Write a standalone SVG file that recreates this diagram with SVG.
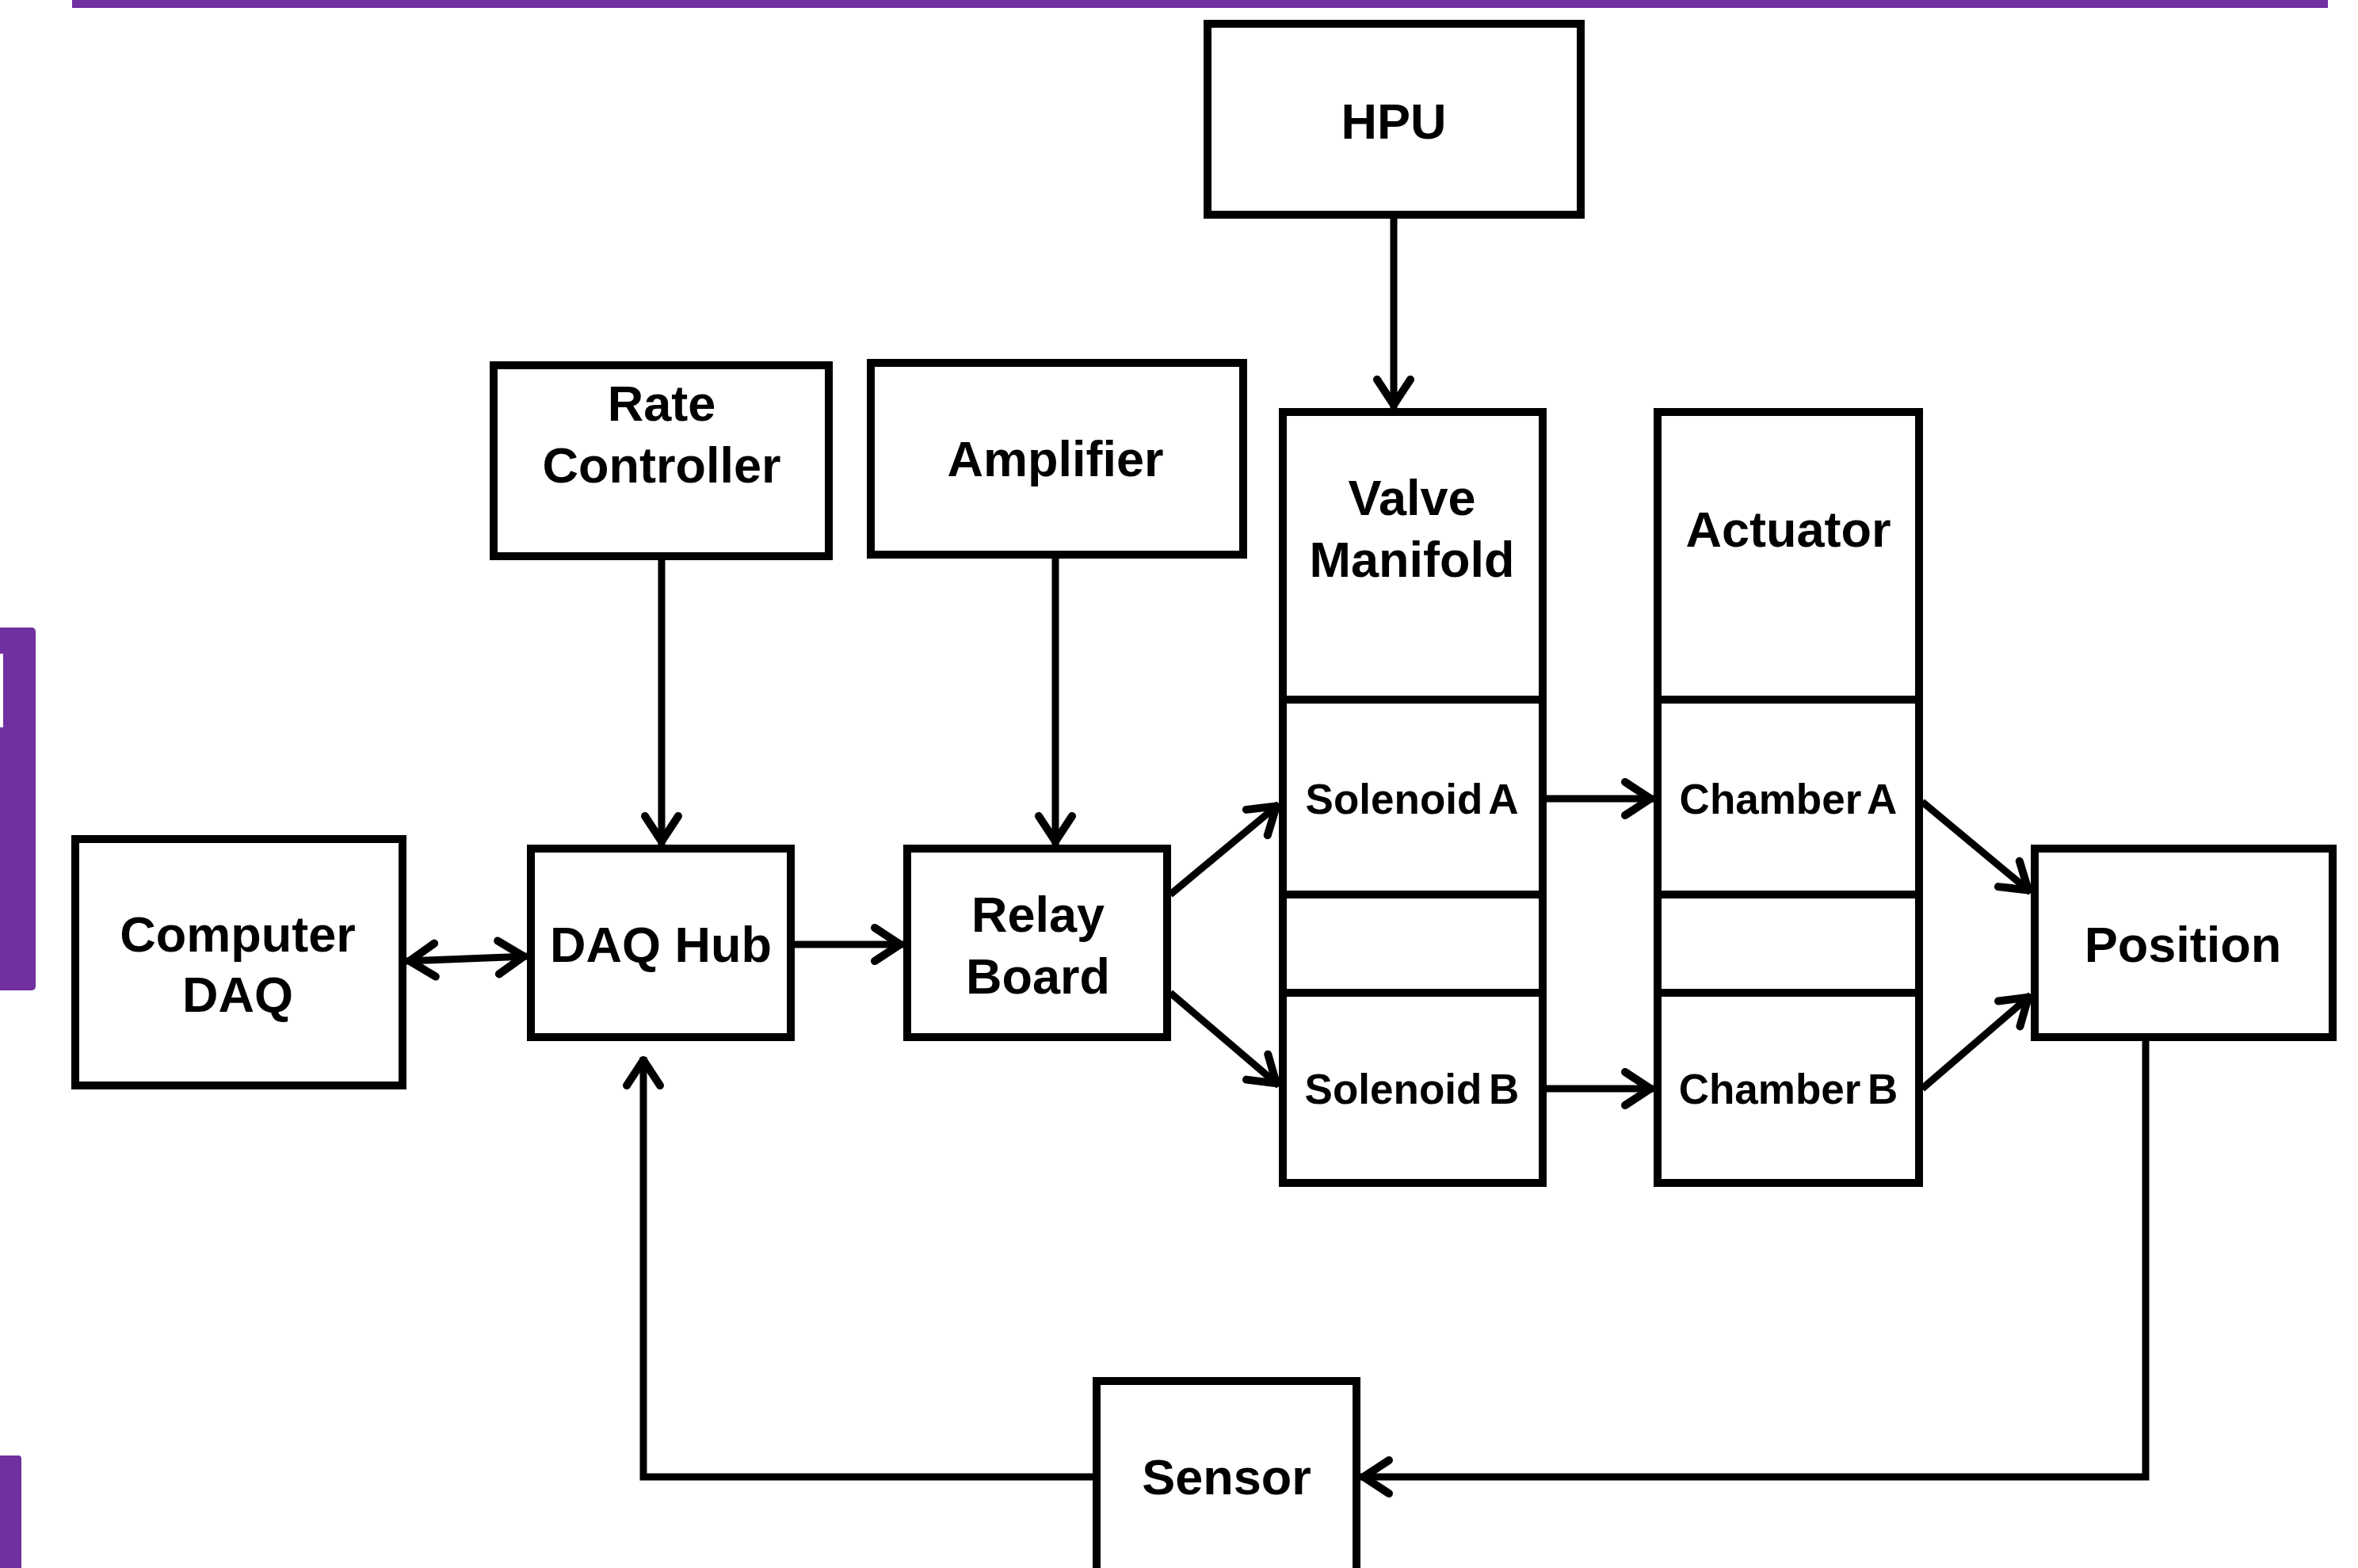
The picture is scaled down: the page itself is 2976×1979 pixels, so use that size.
<svg xmlns="http://www.w3.org/2000/svg" width="2976" height="1979" viewBox="0 0 2976 1979">
<style>
.box{fill:#fff;stroke:#000;stroke-width:10}
.t{font-family:"Liberation Sans",Arial,sans-serif;font-weight:bold;font-size:63px;fill:#000;text-anchor:middle}
.s{font-size:53px;word-spacing:-6px}
.c{fill:none;stroke:#000;stroke-width:9}
.bar{fill:#7030a0}
</style>
<defs>
<marker id="ah" markerUnits="userSpaceOnUse" markerWidth="60" markerHeight="60" refX="0" refY="0" orient="auto-start-reverse" overflow="visible" viewBox="-50 -30 60 60">
<path d="M -36 -21 L -4 0 L -36 21" fill="none" stroke="#000" stroke-width="10" stroke-linecap="round" stroke-linejoin="round"/>
</marker>
</defs>
<rect width="2976" height="1979" fill="#fff"/>
<g id="decor">
<rect class="bar" x="91" y="0" width="2847" height="10"/>
<rect class="bar" x="-6" y="792" width="51" height="458" rx="5"/>
<rect x="0" y="825" width="4" height="93" fill="#fff"/>
<rect class="bar" x="-6" y="1837" width="33" height="160" rx="4"/>
</g>
<g id="connectors">
<path class="c" d="M 835 706 V 1066" marker-end="url(#ah)"/>
<path class="c" d="M 1332 704 V 1066" marker-end="url(#ah)"/>
<path class="c" d="M 1759 275 V 515" marker-end="url(#ah)"/>
<path class="c" d="M 513 1213 L 665 1207" marker-start="url(#ah)" marker-end="url(#ah)"/>
<path class="c" d="M 1002 1192 H 1140" marker-end="url(#ah)"/>
<path class="c" d="M 1477 1129 L 1614 1015" marker-end="url(#ah)"/>
<path class="c" d="M 1477 1253 L 1614 1370" marker-end="url(#ah)"/>
<path class="c" d="M 1951 1008 H 2087" marker-end="url(#ah)"/>
<path class="c" d="M 1951 1374 H 2087" marker-end="url(#ah)"/>
<path class="c" d="M 2426 1012 L 2563 1126" marker-end="url(#ah)"/>
<path class="c" d="M 2426 1374 L 2563 1256" marker-end="url(#ah)"/>
<path class="c" d="M 2708 1313 V 1864 H 1717" marker-end="url(#ah)"/>
<path class="c" d="M 1380 1864 H 812 V 1334" marker-end="url(#ah)"/>
</g>
<g id="hpu"><rect class="box" x="1524" y="30" width="471" height="241"/><text class="t" x="1759" y="175">HPU</text></g>
<g id="rate-controller"><rect class="box" x="623" y="461" width="423" height="241"/><text class="t" x="835" y="531">Rate</text><text class="t" x="835" y="609">Controller</text></g>
<g id="amplifier"><rect class="box" x="1099" y="458" width="470" height="242"/><text class="t" x="1332" y="601">Amplifier</text></g>
<g id="valve-manifold">
<rect class="box" x="1619" y="520" width="328" height="973"/>
<line class="box" x1="1619" y1="883" x2="1947" y2="883"/>
<line class="box" x1="1619" y1="1129" x2="1947" y2="1129"/>
<line class="box" x1="1619" y1="1253" x2="1947" y2="1253"/>
<text class="t" x="1782" y="650">Valve</text><text class="t" x="1782" y="728">Manifold</text>
</g>
<g id="solenoid-a"><text class="t s" x="1782" y="1027">Solenoid A</text></g>
<g id="solenoid-b"><text class="t s" x="1782" y="1393">Solenoid B</text></g>
<g id="actuator">
<rect class="box" x="2092" y="520" width="330" height="973"/>
<line class="box" x1="2092" y1="883" x2="2422" y2="883"/>
<line class="box" x1="2092" y1="1129" x2="2422" y2="1129"/>
<line class="box" x1="2092" y1="1253" x2="2422" y2="1253"/>
<text class="t" x="2257" y="690">Actuator</text>
</g>
<g id="chamber-a"><text class="t s" x="2257" y="1027">Chamber A</text></g>
<g id="chamber-b"><text class="t s" x="2257" y="1393">Chamber B</text></g>
<g id="computer-daq"><rect class="box" x="95" y="1059" width="413" height="311"/><text class="t" x="300" y="1201">Computer</text><text class="t" x="300" y="1277">DAQ</text></g>
<g id="daq-hub"><rect class="box" x="670" y="1071" width="328" height="238"/><text class="t" x="834" y="1214">DAQ Hub</text></g>
<g id="relay-board"><rect class="box" x="1145" y="1071" width="328" height="238"/><text class="t" x="1310" y="1176">Relay</text><text class="t" x="1310" y="1254">Board</text></g>
<g id="position"><rect class="box" x="2568" y="1071" width="376" height="238"/><text class="t" x="2755" y="1214">Position</text></g>
<g id="sensor"><rect class="box" x="1384" y="1743" width="328" height="300"/><text class="t" x="1548" y="1886">Sensor</text></g>
</svg>
